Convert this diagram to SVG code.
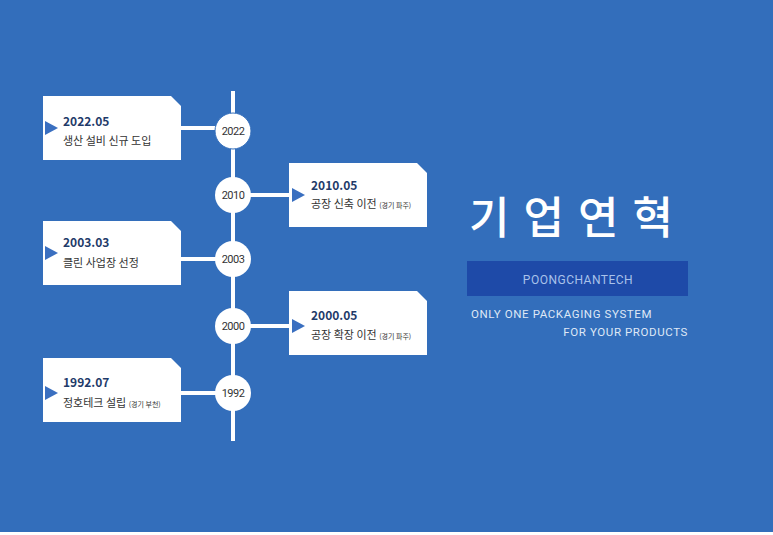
<svg xmlns="http://www.w3.org/2000/svg" width="773" height="535" viewBox="0 0 773 535">
<style>
.card{fill:#fff}
.tri{fill:#3a6fc0}
.date{font:bold 12px "Noto Sans CJK KR","Noto Sans",sans-serif;fill:#1f3b6a}
.desc{font:11px "Noto Sans CJK KR",sans-serif;fill:#333}
.sm{font-size:7px}
.yr{font:11px "Roboto","Liberation Sans",sans-serif;fill:#333;text-anchor:middle;letter-spacing:-0.5px}
.ln{stroke:#fff;stroke-width:4}
</style>
<rect width="773" height="535" fill="#336ebb"/>
<rect y="532" width="773" height="3" fill="#fff"/>
<g id="connectors">
<line class="ln" x1="233" y1="91" x2="233" y2="441"/>
<line class="ln" x1="181" y1="128" x2="233" y2="128"/>
<line class="ln" x1="233" y1="195" x2="289" y2="195"/>
<line class="ln" x1="181" y1="259" x2="233" y2="259"/>
<line class="ln" x1="233" y1="326" x2="289" y2="326"/>
<line class="ln" x1="181" y1="393" x2="233" y2="393"/>
</g>
<g id="c2022"><circle cx="233" cy="131" r="18" fill="#fff" stroke="#336ebb" stroke-width="1"/><text class="yr" x="233" y="135">2022</text></g>
<g id="c2010"><circle cx="233" cy="195" r="18" fill="#fff"/><text class="yr" x="233" y="199">2010</text></g>
<g id="c2003"><circle cx="233" cy="259" r="18" fill="#fff"/><text class="yr" x="233" y="263">2003</text></g>
<g id="c2000"><circle cx="233" cy="326" r="18" fill="#fff"/><text class="yr" x="233" y="330">2000</text></g>
<g id="c1992"><circle cx="233" cy="393" r="18" fill="#fff"/><text class="yr" x="233" y="397">1992</text></g>
<g id="card1"><path class="card" d="M43 96H171L181 106V160H43Z"/><path class="tri" d="M45 121L58 128L45 135Z"/><text class="date" x="63" y="126">2022.05</text><text class="desc" x="63" y="145">생산 설비 신규 도입</text></g>
<g id="card2"><path class="card" d="M289 163H417L427 173V227H289Z"/><path class="tri" d="M292 188L305 195L292 202Z"/><text class="date" x="311" y="190">2010.05</text><text class="desc" x="311" y="208">공장 신축 이전 <tspan class="sm">(경기 파주)</tspan></text></g>
<g id="card3"><path class="card" d="M43 221H171L181 231V285H43Z"/><path class="tri" d="M45 246L58 253L45 260Z"/><text class="date" x="63" y="247">2003.03</text><text class="desc" x="63" y="267">클린 사업장 선정</text></g>
<g id="card4"><path class="card" d="M289 291H417L427 301V355H289Z"/><path class="tri" d="M292 319L305 326L292 333Z"/><text class="date" x="311" y="320">2000.05</text><text class="desc" x="311" y="339">공장 확장 이전 <tspan class="sm">(경기 파주)</tspan></text></g>
<g id="card5"><path class="card" d="M43 358H171L181 368V422H43Z"/><path class="tri" d="M45 386L58 393L45 400Z"/><text class="date" x="63" y="387">1992.07</text><text class="desc" x="63" y="407">정호테크 설립 <tspan class="sm">(경기 부천)</tspan></text></g>
<g id="title">
<text x="578" y="234" text-anchor="middle" font-family="Noto Sans CJK KR, sans-serif" font-size="44" font-weight="500" fill="#fff" letter-spacing="14">기업연혁</text>
<rect x="467" y="261" width="221" height="35" fill="#1e4aa8"/>
<text x="578" y="284" text-anchor="middle" font-family="Roboto, sans-serif" font-size="12" fill="#a9c2ea" letter-spacing="0.5">POONGCHANTECH</text>
<text x="471" y="318" font-family="Roboto, sans-serif" font-size="11.5" fill="#dfe8f6" letter-spacing="0.6">ONLY ONE PACKAGING SYSTEM</text>
<text x="688" y="336" text-anchor="end" font-family="Roboto, sans-serif" font-size="11.5" fill="#dfe8f6" letter-spacing="0.6">FOR YOUR PRODUCTS</text>
</g>
</svg>
